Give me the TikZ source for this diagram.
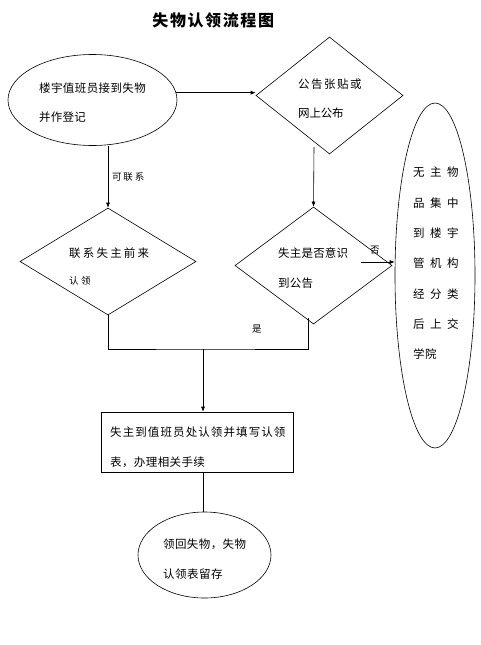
\documentclass[tikz,border=0pt]{standalone}
\usepackage{fontspec}
\setmainfont{Noto Sans CJK SC}
\usetikzlibrary{shapes.geometric,arrows.meta}
\makeatletter
\newcommand\sptext[2]{\@tfor\ch:=#2\do{\makebox[#1][l]{\ch}}}
\makeatother
\tikzset{
  shp/.style={draw, line width=0.6pt, inner sep=0pt},
  lin/.style={line width=0.6pt},
  arr/.style={line width=0.6pt, -{Latex[length=5pt,width=4pt]}},
  txt/.style={anchor=west, inner sep=0pt, font=\fontsize{11.5}{13}\selectfont},
  stxt/.style={anchor=west, inner sep=0pt, font=\fontsize{9.5}{11}\selectfont},
}
\begin{document}
\begin{tikzpicture}[x=1pt,y=-1pt]
\useasboundingbox[fill=white] (0,0) rectangle (481,645);
% title
\node[anchor=center, inner sep=0pt, font=\fontsize{16}{18}\bfseries\selectfont] (title) at (214,20) {\sptext{17.6pt}{失物认领流程图}};
% shapes
\node[shp, ellipse, minimum width=169, minimum height=91] (e1) at (92.5,100) {};
\node[shp, diamond, minimum width=147, minimum height=117] (d1) at (329.5,95.5) {};
\node[shp, diamond, minimum width=176, minimum height=107] (d2) at (108,261.5) {};
\node[shp, diamond, minimum width=157, minimum height=117] (d3) at (313.5,265.5) {};
\node[shp, ellipse, minimum width=80, minimum height=345] (e3) at (435,275.5) {};
\node[shp, rectangle, minimum width=192, minimum height=60] (box) at (197,442) {};
\node[shp, ellipse, minimum width=133, minimum height=86] (e4) at (204.5,555) {};
% coordinates
\coordinate (c1) at (314,147);
\coordinate (c2) at (361,262);
\coordinate (m) at (203,349);
\coordinate (c4) at (308,318);
% connectors
\draw[arr] (e1.5) -- (e1.5 -| d1.west);
\draw[arr] (d2.north |- e1.south) -- (d2.north);
\draw[arr] (c1) -- (d3.north);
\draw[arr] (c2) -- (c2 -| e3.west);
\draw[lin] (d2.south) |- (m) -| (c4);
\draw[arr] (m) -- (m |- box.north);
\draw[lin] (m |- box.south) -- (m |- e4.north);
% texts
\node[txt] (t1a) at (39,88) {\sptext{11.9pt}{楼宇值班员接到失物}};
\node[txt] (t1b) at (39,117) {\sptext{11.7pt}{并作登记}};
\node[txt] (t2a) at (298,84) {\sptext{13pt}{公告张贴或}};
\node[txt] (t2b) at (298,113) {\sptext{11.3pt}{网上公布}};
\node[stxt] (lb1) at (112,177) {\sptext{11.3pt}{可联系}};
\node[txt] (t3a) at (69,253) {\sptext{13.7pt}{联系失主前来}};
\node[stxt] (t3b) at (69,281) {\sptext{12pt}{认领}};
\node[txt] (t4a) at (278,253) {\sptext{11.7pt}{失主是否意识}};
\node[txt] (t4b) at (278,283) {\sptext{11.7pt}{到公告}};
\node[stxt] (lb2) at (370,250) {否};
\node[stxt] (lb3) at (252,329) {是};
\node[txt] (t5a) at (413,172) {\sptext{17pt}{无主物}};
\node[txt] (t5b) at (413,203) {\sptext{17pt}{品集中}};
\node[txt] (t5c) at (413,233) {\sptext{17pt}{到楼宇}};
\node[txt] (t5d) at (413,263.5) {\sptext{17pt}{管机构}};
\node[txt] (t5e) at (413,294) {\sptext{17pt}{经分类}};
\node[txt] (t5f) at (413,324.5) {\sptext{17pt}{后上交}};
\node[txt] (t5g) at (413,354.5) {\sptext{12pt}{学院}};
\node[txt] (t6a) at (110,432) {\sptext{12.6pt}{失主到值班员处认领并填写认领}};
\node[txt] (t6b) at (110,462) {\sptext{11.9pt}{表，办理相关手续}};
\node[txt] (t7a) at (163,544) {\sptext{11.9pt}{领回失物，失物}};
\node[txt] (t7b) at (163,574) {\sptext{12pt}{认领表留存}};
\end{tikzpicture}
\end{document}
